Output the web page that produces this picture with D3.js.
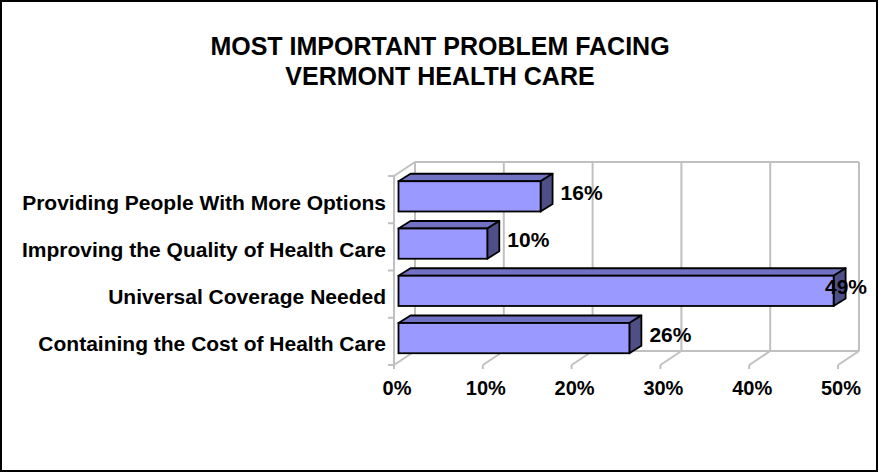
<!DOCTYPE html>
<html>
<head>
<meta charset="utf-8">
<script src="https://cdn.jsdelivr.net/npm/d3@7"></script>
<style>
  html, body { margin: 0; padding: 0; background: #fff; }
  svg { display: block; }
  text { font-family: "Liberation Sans", Arial, Helvetica, sans-serif; font-weight: bold; fill: #000; }
</style>
</head>
<body>
<script>
// ---- data ----
const categories = [
  "Providing People With More Options",
  "Improving the Quality of Health Care",
  "Universal Coverage Needed",
  "Containing the Cost of Health Care"
];
const values = [16, 10, 49, 26];
const tickValues = [0, 10, 20, 30, 40, 50];
const titleLines = ["MOST IMPORTANT PROBLEM FACING", "VERMONT HEALTH CARE"];

// ---- layout ----
const W = 879, H = 473;
const svg = d3.select("body").append("svg").attr("width", W).attr("height", H);

svg.append("rect").attr("x", 1).attr("y", 1).attr("width", W - 3).attr("height", H - 3)
  .attr("fill", "#fff").attr("stroke", "#000").attr("stroke-width", 2);

// title
svg.append("g").selectAll("text").data(titleLines).join("text")
  .attr("x", 440).attr("y", (d, i) => 55 + i * 30)
  .attr("text-anchor", "middle").style("font-size", "25px")
  .text(d => d);

const x = d3.scaleLinear().domain([0, 50]).range([394, 838]);
const y = d3.scaleBand().domain(categories).range([176, 365]).paddingInner(0.36).paddingOuter(0.18);
const DX = 21, DY = -14;          // wall depth
const BX = 12, BY = -7.5;         // bar depth
const OX = (DX - BX) / 2, OY = (DY - BY) / 2; // bar front offset
const grid = "#C0C0C0";
const yTop = y.range()[0], yBot = y.range()[1];

const g = svg.append("g");
// back wall vertical gridlines
g.selectAll("line.vg").data(tickValues).join("line")
  .attr("x1", d => x(d) + DX).attr("x2", d => x(d) + DX)
  .attr("y1", yTop + DY).attr("y2", yBot + DY)
  .attr("stroke", grid).attr("stroke-width", 2);
// back wall top & floor edges
[yTop + DY, yBot + DY].forEach(yy => {
  g.append("line").attr("x1", x(0) + DX).attr("x2", x(50) + DX).attr("y1", yy).attr("y2", yy)
    .attr("stroke", grid).attr("stroke-width", 2);
});
// floor diagonals
g.selectAll("line.fd").data(tickValues).join("line")
  .attr("x1", d => x(d)).attr("y1", yBot).attr("x2", d => x(d) + DX).attr("y2", yBot + DY)
  .attr("stroke", grid).attr("stroke-width", 2);
// left wall front edge and top diagonal
g.append("line").attr("x1", x(0)).attr("x2", x(0)).attr("y1", yTop).attr("y2", yBot)
  .attr("stroke", grid).attr("stroke-width", 2);
g.append("line").attr("x1", x(0)).attr("y1", yTop).attr("x2", x(0) + DX).attr("y2", yTop + DY)
  .attr("stroke", grid).attr("stroke-width", 2);
// left ticks at band boundaries
const step = y.step();
const bounds = d3.range(categories.length + 1).map(i => yTop + i * step);
g.selectAll("line.lt").data(bounds).join("line")
  .attr("x1", x(0) - 6).attr("x2", x(0)).attr("y1", d => d).attr("y2", d => d)
  .attr("stroke", grid).attr("stroke-width", 2);
// bottom ticks
g.selectAll("line.bt").data(tickValues).join("line")
  .attr("x1", d => x(d)).attr("x2", d => x(d)).attr("y1", yBot).attr("y2", yBot + 4)
  .attr("stroke", grid).attr("stroke-width", 2);

// bars
const data = categories.map((c, i) => ({ c, v: values[i] }));
const bars = svg.append("g").selectAll("g").data(data).join("g");
const pts = a => a.map(p => p.join(",")).join(" ");
bars.each(function (d) {
  const x0 = x(0) + OX, x1 = x(d.v) + OX;
  const y0 = y(d.c) + OY, y1 = y0 + y.bandwidth();
  const s = d3.select(this);
  s.append("polygon").attr("points", pts([[x0, y0], [x0 + BX, y0 + BY], [x1 + BX, y0 + BY], [x1, y0]]))
    .attr("fill", "#7272C4").attr("stroke", "#000").attr("stroke-width", 1.8).attr("stroke-linejoin", "round");
  s.append("polygon").attr("points", pts([[x1, y0], [x1 + BX, y0 + BY], [x1 + BX, y1 + BY], [x1, y1]]))
    .attr("fill", "#4F4F88").attr("stroke", "#000").attr("stroke-width", 1.8).attr("stroke-linejoin", "round");
  s.append("rect").attr("x", x0).attr("y", y0).attr("width", x1 - x0).attr("height", y1 - y0)
    .attr("fill", "#9999FF").attr("stroke", "#000").attr("stroke-width", 1.8);
});

// data labels
const lab = svg.append("g").selectAll("text").data(data).join("text")
  .style("font-size", "21px")
  .attr("y", d => y(d.c) + OY + y.bandwidth() / 2 + 3.5)
  .text(d => d.v + "%");
lab.attr("x", function (d) {
  const w = this.getComputedTextLength();
  const xx = x(d.v) + OX + BX + 8;
  return Math.min(xx, 867 - w);
});

// category labels
svg.append("g").selectAll("text").data(categories).join("text")
  .attr("x", x(0) - 8).attr("y", d => y(d) + y.bandwidth() / 2 + 10)
  .attr("text-anchor", "end").style("font-size", "21px")
  .text(d => d);

// axis labels
svg.append("g").selectAll("text").data(tickValues).join("text")
  .attr("x", d => x(d) + 3).attr("y", 395)
  .attr("text-anchor", "middle").style("font-size", "20px")
  .text(d => d + "%");
</script>
</body>
</html>
